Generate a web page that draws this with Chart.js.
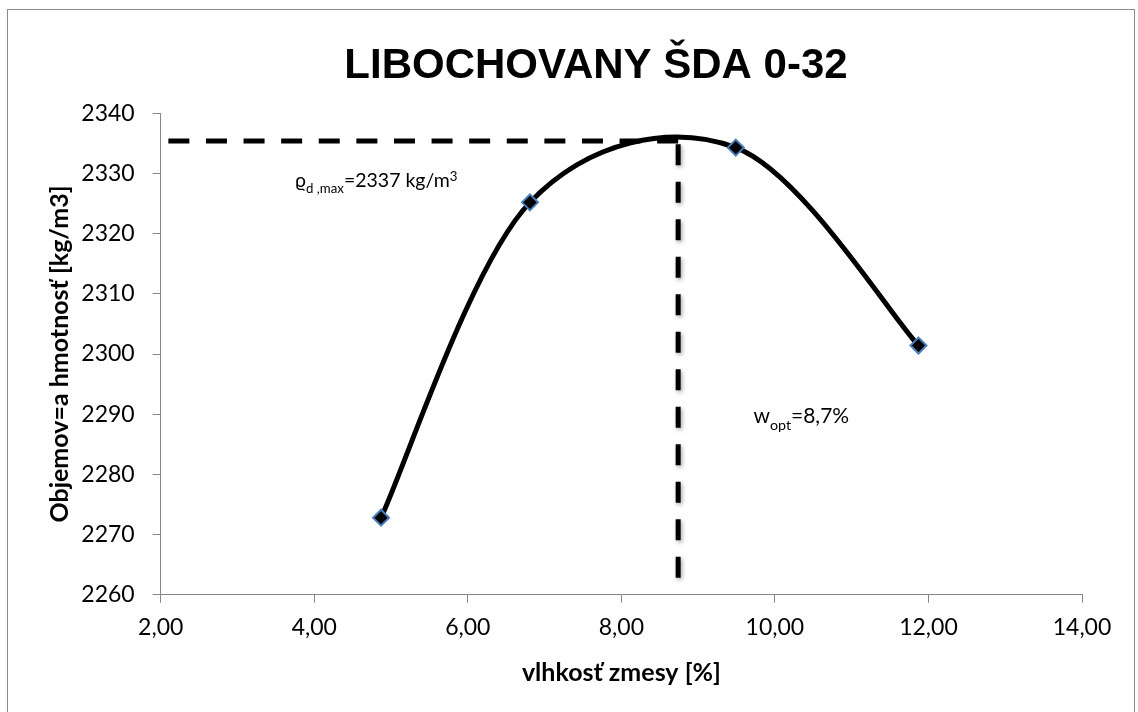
<!DOCTYPE html>
<html>
<head>
<meta charset="utf-8">
<script src="https://cdn.jsdelivr.net/npm/chart.js@4/dist/chart.umd.min.js"></script>
<style>
html,body{margin:0;padding:0;background:#fff;}
#wrap{width:1138px;height:712px;position:relative;}
</style>
</head>
<body>
<div id="wrap"><canvas id="c"></canvas></div>
<script>
// ---- data ----
const chartTitle = 'LIBOCHOVANY ŠDA 0-32';
const xAxisTitle = 'vlhkosť zmesy [%]';
const yAxisTitle = 'Objemov=a hmotnosť [kg/m3]';
const moisture = [4.87, 6.81, 9.49, 11.87];
const density = [2272.8, 2325.2, 2334.3, 2301.4];
const xTickValues = [2, 4, 6, 8, 10, 12, 14];
const xTickLabels = ['2,00', '4,00', '6,00', '8,00', '10,00', '12,00', '14,00'];
const yTickValues = [2260, 2270, 2280, 2290, 2300, 2310, 2320, 2330, 2340];
const yTickLabels = ['2260', '2270', '2280', '2290', '2300', '2310', '2320', '2330', '2340'];
const optMoisture = 8.74;      // w_opt guide line
const maxDensityGuide = 2335.4; // rho_d,max guide line
const guideBottom = 2262.8;
const guideLeft = 1.9;
const rhoLabel = [{s: 'ϱ', t: 'n'}, {s: 'd ,max', t: 'sub'}, {s: '=2337 kg/m', t: 'n'}, {s: '3', t: 'sup'}];
const rhoLabelPos = {x: 3.75, y: 2327.7};
const wLabel = [{s: 'w', t: 'n'}, {s: 'opt', t: 'sub'}, {s: '=8,7%', t: 'n'}];
const wLabelPos = {x: 9.72, y: 2288.5};

const FONT = 'Lato, "Open Sans", sans-serif';

function drawRich(ctx, x, y, parts, size) {
  let cx = x;
  ctx.textAlign = 'left';
  ctx.textBaseline = 'alphabetic';
  for (const p of parts) {
    let fs = size, dy = 0;
    if (p.t === 'sub') { fs = size * 0.68; dy = size * 0.3; }
    if (p.t === 'sup') { fs = size * 0.68; dy = -size * 0.32; }
    ctx.font = fs + 'px ' + FONT;
    ctx.fillText(p.s, cx, y + dy);
    cx += ctx.measureText(p.s).width;
  }
}

const decorPlugin = {
  id: 'decor',
  beforeDraw(chart) {
    const ctx = chart.ctx;
    ctx.save();
    ctx.fillStyle = '#fff';
    ctx.fillRect(0, 0, chart.width, chart.height);
    ctx.strokeStyle = '#8c8c8c';
    ctx.lineWidth = 1;
    ctx.strokeRect(7.5, 9.5, 1127, 712);
    ctx.restore();
  },
  afterDraw(chart) {
    const ctx = chart.ctx;
    const xs = chart.scales.x, ys = chart.scales.y;
    ctx.save();
    ctx.fillStyle = '#000';
    ctx.font = 'bold 42px "Liberation Sans", Arial, sans-serif';
    ctx.textAlign = 'center';
    ctx.textBaseline = 'alphabetic';
    ctx.fillText(chartTitle, 596, 78);
    drawRich(ctx, xs.getPixelForValue(rhoLabelPos.x), ys.getPixelForValue(rhoLabelPos.y), rhoLabel, 19.5);
    drawRich(ctx, xs.getPixelForValue(wLabelPos.x), ys.getPixelForValue(wLabelPos.y), wLabel, 21);
    ctx.restore();
  },
  beforeDatasetDraw(chart, args) {
    if (args.index === 0) {
      // Excel-style smoothing: tangents = (next - prev) / 6
      const meta = args.meta;
      const line = meta.dataset;
      line.updateControlPoints(chart.chartArea, 'x');
      const pts = meta.data;
      const n = pts.length;
      for (let i = 0; i < n; i++) {
        const prev = pts[Math.max(i - 1, 0)], next = pts[Math.min(i + 1, n - 1)];
        const dx = (next.x - prev.x) / 6, dy = (next.y - prev.y) / 6;
        pts[i].cp1x = pts[i].x - dx; pts[i].cp1y = pts[i].y - dy;
        pts[i].cp2x = pts[i].x + dx; pts[i].cp2y = pts[i].y + dy;
      }
      line._path = undefined;
    }
    if (args.index === 2) {
      const ctx = chart.ctx;
      ctx.save();
      ctx.shadowColor = 'rgba(0,0,0,0.35)';
      ctx.shadowBlur = 4;
      ctx.shadowOffsetX = 1.5;
      ctx.shadowOffsetY = 2;
    }
  },
  afterDatasetDraw(chart, args) {
    if (args.index === 2) chart.ctx.restore();
  }
};

const curveData = moisture.map((x, i) => ({x: x, y: density[i]}));

new Chart(document.getElementById('c'), {
  type: 'scatter',
  data: {
    datasets: [
      {
        label: 'curve',
        data: curveData,
        showLine: true,
        borderColor: '#000',
        borderWidth: 5,
        tension: 0.4,
        pointStyle: 'rectRot',
        pointRadius: 8,
        pointBackgroundColor: '#000',
        pointBorderColor: '#4a7ebb',
        pointBorderWidth: 2,
        order: 0
      },
      {
        label: 'hguide',
        data: [{x: optMoisture, y: maxDensityGuide}, {x: guideLeft, y: maxDensityGuide}],
        showLine: true,
        borderColor: '#000',
        borderWidth: 5,
        borderDash: [21, 16.6],
        borderCapStyle: 'butt',
        pointRadius: 0,
        tension: 0,
        clip: false,
        order: 1
      },
      {
        label: 'vguide',
        data: [{x: optMoisture, y: guideBottom}, {x: optMoisture, y: maxDensityGuide}],
        showLine: true,
        borderColor: '#000',
        borderWidth: 5,
        borderDash: [21, 16.5],
        borderCapStyle: 'butt',
        pointRadius: 0,
        tension: 0,
        clip: false,
        order: 2
      }
    ]
  },
  options: {
    responsive: true,
    maintainAspectRatio: false,
    animation: false,
    events: [],
    layout: {padding: {top: 113.3, right: 56, bottom: 0, left: 0}},
    plugins: {
      legend: {display: false},
      tooltip: {enabled: false},
      title: {display: false}
    },
    scales: {
      x: {
        type: 'linear',
        min: 2,
        max: 14,
        afterBuildTicks: s => { s.ticks = xTickValues.map(v => ({value: v})); },
        afterFit: s => { s.height = 712 - 594.7; },
        ticks: {
          callback: (v, i) => xTickLabels[i],
          font: {family: FONT, size: 23},
          color: '#000',
          padding: 11,
          maxRotation: 0,
          autoSkip: false
        },
        grid: {drawOnChartArea: false, drawTicks: true, tickLength: 8, color: '#868686'},
        border: {display: true, color: '#868686', width: 1},
        title: {
          display: true,
          text: xAxisTitle,
          font: {family: FONT, size: 25, weight: 'bold'},
          color: '#000',
          padding: {top: 0, bottom: 24}
        }
      },
      y: {
        type: 'linear',
        min: 2260,
        max: 2340,
        afterBuildTicks: s => { s.ticks = yTickValues.map(v => ({value: v})); },
        afterFit: s => { s.width = 160.7; },
        ticks: {
          callback: (v, i) => yTickLabels[i],
          font: {family: FONT, size: 23},
          color: '#000',
          padding: 18,
          autoSkip: false
        },
        grid: {drawOnChartArea: false, drawTicks: true, tickLength: 8, color: '#868686'},
        border: {display: true, color: '#868686', width: 1},
        title: {
          display: true,
          text: yAxisTitle,
          font: {family: FONT, size: 25, weight: 'bold'},
          color: '#000',
          padding: {top: 45, bottom: 0}
        }
      }
    }
  },
  plugins: [decorPlugin]
});
</script>
</body>
</html>
